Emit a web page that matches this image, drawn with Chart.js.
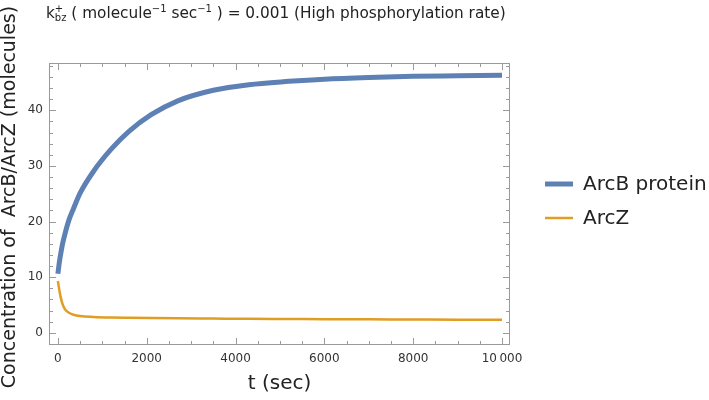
<!DOCTYPE html>
<html>
<head>
<meta charset="utf-8">
<script src="https://cdn.jsdelivr.net/npm/chart.js"></script>
<style>
  body { margin: 0; background: #fff; }
  #wrap { width: 709px; height: 400px; }
</style>
</head>
<body>
<div id="wrap"><canvas id="myChart"></canvas></div>
<script>
// data
var tVals = [0, 30, 60, 100, 160, 250, 350, 500, 800, 1200, 1600, 2100, 2700, 3500, 4300, 5200, 6000, 7000, 8000, 9000, 10000];
var arcB  = [10.6, 12.5, 14.0, 15.8, 17.8, 20.3, 22.3, 25.1, 29.0, 33.0, 36.2, 39.2, 41.7, 43.6, 44.6, 45.2, 45.6, 45.9, 46.1, 46.2, 46.3];
var arcZ  = [9.3, 7.8, 6.5, 5.3, 4.2, 3.6, 3.25, 3.0, 2.85, 2.75, 2.7, 2.65, 2.6, 2.55, 2.5, 2.47, 2.44, 2.41, 2.38, 2.35, 2.33];
var seriesNames = ["ArcB protein", "ArcZ"];
var seriesColors = ["#5E81B5", "#E19C24"];
var xTicks = [0, 2000, 4000, 6000, 8000, 10000];
var xMinor = [500, 1000, 1500, 2500, 3000, 3500, 4500, 5000, 5500, 6500, 7000, 7500, 8500, 9000, 9500];
var yTicks = [0, 10, 20, 30, 40];
var yMinor = [-2, 2, 4, 6, 8, 12, 14, 16, 18, 22, 24, 26, 28, 32, 34, 36, 38, 42, 44, 46, 48];
var yTitle = "Concentration of  ArcB/ArcZ (molecules)";

var FONT = "'DejaVu Sans', sans-serif";
var frameColor = "#9a9a9a";

function pts(ys) {
  return tVals.map(function(t, i) { return {x: t, y: ys[i]}; });
}

// frame with inward ticks on all four sides, like the original
var framePlugin = {
  id: "frame",
  afterDraw: function(chart) {
    var ctx = chart.ctx, a = chart.chartArea;
    var xs = chart.scales.x, ys = chart.scales.y;
    ctx.save();
    ctx.strokeStyle = frameColor;
    ctx.lineWidth = 1;
    ctx.strokeRect(a.left + 0.5, a.top + 0.5, a.right - a.left - 1, a.bottom - a.top - 1);
    function tickX(v, len) {
      var p = Math.round(xs.getPixelForValue(v)) + 0.5;
      ctx.beginPath();
      ctx.moveTo(p, a.bottom); ctx.lineTo(p, a.bottom - len);
      ctx.moveTo(p, a.top); ctx.lineTo(p, a.top + len);
      ctx.stroke();
    }
    function tickY(v, len) {
      var p = Math.round(ys.getPixelForValue(v)) + 0.5;
      ctx.beginPath();
      ctx.moveTo(a.left, p); ctx.lineTo(a.left + len, p);
      ctx.moveTo(a.right, p); ctx.lineTo(a.right - len, p);
      ctx.stroke();
    }
    xTicks.forEach(function(v) { tickX(v, 7); });
    xMinor.forEach(function(v) { tickX(v, 4); });
    yTicks.forEach(function(v) { tickY(v, 7); });
    yMinor.forEach(function(v) { tickY(v, 4); });

    // legend
    ctx.lineCap = "butt";
    ctx.font = "20px " + FONT;
    ctx.textBaseline = "middle";
    ctx.fillStyle = "#222";
    var ly = [184, 218], lw = [5, 2.5];
    chart.data.datasets.forEach(function(ds, i) {
      ctx.strokeStyle = ds.borderColor;
      ctx.lineWidth = lw[i];
      ctx.beginPath();
      ctx.moveTo(545, ly[i]); ctx.lineTo(573, ly[i]);
      ctx.stroke();
      ctx.fillText(ds.label, 583, ly[i] + 1);
    });

    // y axis title
    ctx.save();
    ctx.translate(10, 197);
    ctx.rotate(-Math.PI / 2);
    ctx.font = "19px " + FONT;
    ctx.textAlign = "center";
    ctx.textBaseline = "middle";
    ctx.fillText(yTitle, 0, 0);
    ctx.restore();

    // title with sub/superscripts
    var parts = [
      ["k", 15.3, 0], ["+", 10, -6], ["bz", 10, 3, true], [" ( molecule", 15.3, 0], ["\u22121", 10, -6],
      [" sec", 15.3, 0], ["\u22121", 10, -6], [" ) = 0.001 (High phosphorylation rate)", 15.3, 0]
    ];
    var x = 46, base = 18, supW = 0;
    ctx.fillStyle = "#222";
    ctx.textBaseline = "alphabetic";
    parts.forEach(function(p) {
      ctx.font = p[1] + "px " + FONT;
      var w = ctx.measureText(p[0]).width;
      if (p[3]) {
        // subscript sits under the superscript
        ctx.fillText(p[0], x - supW, base + p[2]);
        x = x - supW + Math.max(w, supW);
      } else {
        ctx.fillText(p[0], x, base + p[2]);
        x += w;
      }
      supW = w;
    });
    ctx.restore();
  }
};

new Chart("myChart", {
  type: "line",
  data: {
    datasets: [{
      label: seriesNames[0],
      data: pts(arcB),
      borderColor: seriesColors[0],
      borderWidth: 5,
      pointRadius: 0,
      cubicInterpolationMode: "monotone",
      fill: false
    }, {
      label: seriesNames[1],
      data: pts(arcZ),
      borderColor: seriesColors[1],
      borderWidth: 2.5,
      pointRadius: 0,
      cubicInterpolationMode: "monotone",
      fill: false
    }]
  },
  options: {
    responsive: true,
    maintainAspectRatio: false,
    animation: false,
    layout: { padding: { top: 63, right: 199, left: 0, bottom: 0 } },
    plugins: {
      legend: { display: false },
      tooltip: { enabled: false }
    },
    scales: {
      x: {
        type: "linear",
        min: -200,
        max: 10180,
        grid: { display: false, drawTicks: false },
        border: { display: false },
        afterBuildTicks: function(s) { s.ticks = xTicks.map(function(v) { return {value: v}; }); },
        afterFit: function(s) { s.height = 55; },
        ticks: {
          padding: 7,
          maxRotation: 0,
          color: "#333",
          font: { family: FONT, size: 12 },
          callback: function(v) { return v === 10000 ? "10\u2009000" : String(v); }
        },
        title: {
          display: true,
          text: "t (sec)",
          color: "#222",
          font: { family: FONT, size: 20 },
          padding: { top: 0, bottom: 4 }
        }
      },
      y: {
        type: "linear",
        min: -2.2,
        max: 48.5,
        grid: { display: false, drawTicks: false },
        border: { display: false },
        afterBuildTicks: function(s) { s.ticks = yTicks.map(function(v) { return {value: v}; }); },
        afterFit: function(s) { s.width = 49; },
        ticks: {
          padding: 6,
          color: "#333",
          font: { family: FONT, size: 12 }
        }
      }
    }
  },
  plugins: [framePlugin]
});
</script>
</body>
</html>
